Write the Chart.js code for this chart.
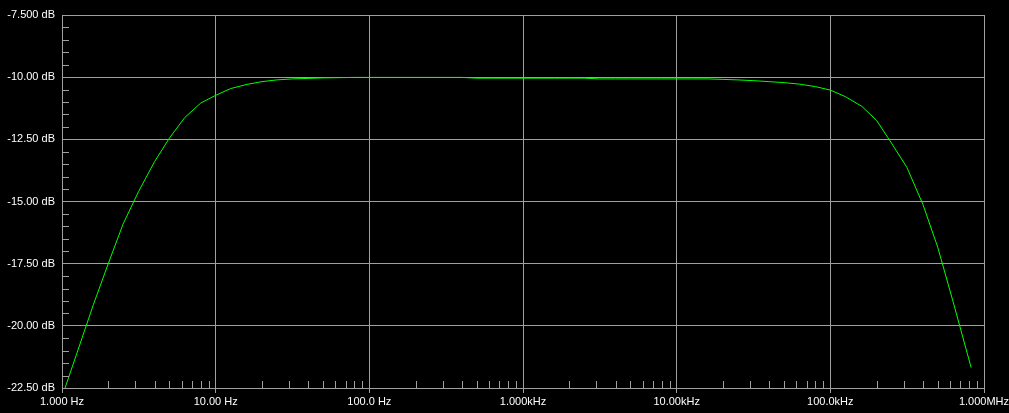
<!DOCTYPE html>
<html>
<head>
<meta charset="utf-8">
<script src="https://cdn.jsdelivr.net/npm/chart.js@4/dist/chart.umd.min.js"></script>
<style>
html,body{margin:0;padding:0;background:#000;}
#wrap{position:relative;width:1009px;height:413px;background:#000;}
canvas{background:#000;}
</style>
</head>
<body>
<div id="wrap"><canvas id="c"></canvas></div>
<script>
// Frequencies (Hz)
const freqs = [1,1.25,1.6,2,2.5,3.15,4,5,6.3,8,10,12.5,16,20,25,31.5,40,50,63,80,100,125,160,200,250,315,400,500,630,800,1000,1250,1600,2000,2500,3150,4000,5000,6300,8000,10000,12500,16000,20000,25000,31500,40000,50000,63000,80000,100000,125000,160000,200000,250000,315000,400000,500000,630000,825000];
// Magnitude (dB)
const gainDb = [-22.86,-21.1,-19.15,-17.5,-15.9,-14.6,-13.4,-12.45,-11.62,-11.04,-10.73,-10.46,-10.29,-10.18,-10.11,-10.07,-10.05,-10.03,-10.02,-10.01,-10.01,-10.01,-10.01,-10.01,-10.01,-10.01,-10.01,-10.04,-10.04,-10.04,-10.04,-10.04,-10.04,-10.04,-10.04,-10.07,-10.07,-10.07,-10.07,-10.07,-10.07,-10.07,-10.07,-10.09,-10.11,-10.14,-10.18,-10.22,-10.28,-10.38,-10.52,-10.78,-11.17,-11.74,-12.65,-13.63,-15.11,-16.84,-19.04,-21.68];
// Axis ticks
const xTicks = [1,10,100,1000,10000,100000,1000000];
const xTickLabels = ['1.000 Hz','10.00 Hz','100.0 Hz','1.000kHz','10.00kHz','100.0kHz','1.000MHz'];
const yTicks = [-22.5,-20,-17.5,-15,-12.5,-10,-7.5];
const yTickLabels = ['-22.50 dB','-20.00 dB','-17.50 dB','-15.00 dB','-12.50 dB','-10.00 dB','-7.500 dB'];

const GRID = '#a0a0a0';
const points = freqs.map((f,i)=>({x:f,y:gainDb[i]}));

const minorTicks = {
  id:'minorTicks',
  afterDraw(chart){
    const ctx = chart.ctx, xs = chart.scales.x, ys = chart.scales.y, a = chart.chartArea;
    ctx.save();
    ctx.strokeStyle = GRID; ctx.lineWidth = 1;
    ctx.beginPath();
    for (let d = 1; d < 1000000; d *= 10) {
      for (let m = 2; m <= 9; m++) {
        const px = Math.round(xs.getPixelForValue(d*m)) + 0.5;
        ctx.moveTo(px, a.bottom); ctx.lineTo(px, a.bottom - 7);
      }
    }
    for (let v = -22.5; v <= -7.5 + 1e-9; v += 0.5) {
      if (Math.abs((v/2.5) - Math.round(v/2.5)) < 1e-6) continue;
      const py = Math.round(ys.getPixelForValue(v)) + 0.5;
      ctx.moveTo(a.left, py); ctx.lineTo(a.left + 7, py);
    }
    ctx.stroke();
    ctx.restore();
  }
};

new Chart(document.getElementById('c'), {
  type:'line',
  data:{datasets:[{data:points,borderColor:'#00ff00',borderWidth:1,pointRadius:0,tension:0,fill:false}]},
  options:{
    responsive:true, maintainAspectRatio:false, animation:false,
    layout:{padding:{top:15,right:25,left:0,bottom:0}},
    plugins:{legend:{display:false},tooltip:{enabled:false}},
    scales:{
      x:{
        type:'logarithmic', min:1, max:1000000,
        afterBuildTicks(s){ s.ticks = xTicks.map(v=>({value:v})); },
        afterFit(s){ s.height = 25; s.paddingLeft = 0; s.paddingRight = 0; },
        ticks:{autoSkip:false,maxRotation:0,minRotation:0,color:'#ffffff',padding:2,
          font:{family:'"Liberation Sans", Arial, sans-serif',size:11},
          callback(v){ const i = xTicks.indexOf(v); return i>=0 ? xTickLabels[i] : ''; }},
        grid:{color:GRID,lineWidth:1,tickLength:5,drawTicks:true},
        border:{color:GRID,width:1}
      },
      y:{
        type:'linear', min:-22.5, max:-7.5,
        afterBuildTicks(s){ s.ticks = yTicks.map(v=>({value:v})); },
        afterFit(s){ s.width = 62; s.paddingTop = 0; s.paddingBottom = 0; },
        ticks:{color:'#ffffff',padding:7,
          font:{family:'"Liberation Sans", Arial, sans-serif',size:11},
          callback(v){ const i = yTicks.indexOf(v); return i>=0 ? yTickLabels[i] : ''; }},
        grid:{color:GRID,lineWidth:1,drawTicks:false},
        border:{color:GRID,width:1}
      }
    }
  },
  plugins:[minorTicks]
});
</script>
</body>
</html>
